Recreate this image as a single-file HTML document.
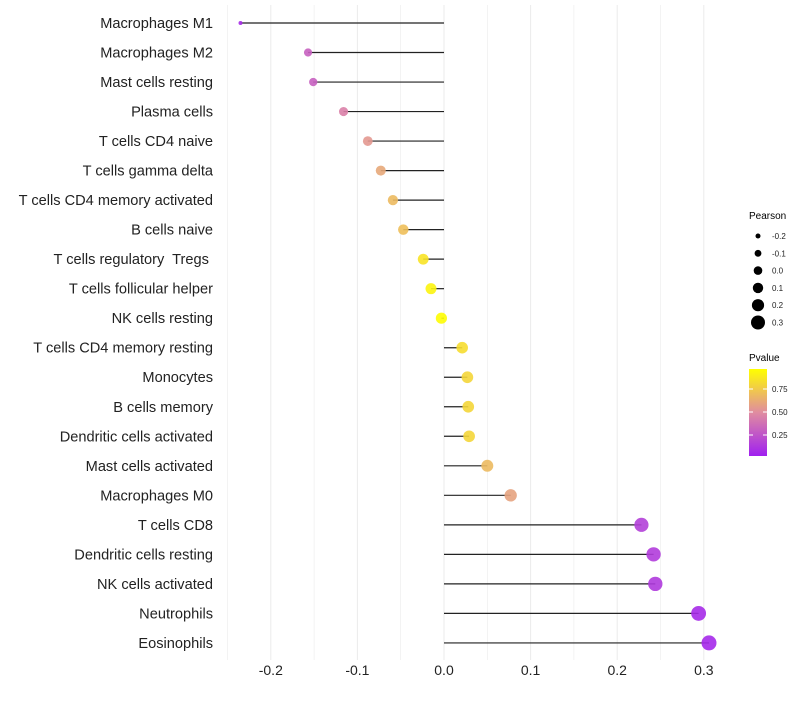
<!DOCTYPE html>
<html><head><meta charset="utf-8"><style>
body{margin:0;background:#fff;font-family:"Liberation Sans",sans-serif}
</style></head><body>
<svg id="chart" width="800" height="700" xmlns="http://www.w3.org/2000/svg" font-family="Liberation Sans, sans-serif">
<defs><linearGradient id="pg" x1="0" y1="1" x2="0" y2="0">
<stop offset="0" stop-color="#A020F0"/><stop offset="0.5" stop-color="#E08CA0"/><stop offset="1" stop-color="#FFFF00"/></linearGradient></defs>
<g id="grid"></g><g id="marks"></g><g id="labels"></g><g id="xticks"></g>
<g>
<text x="749" y="219" font-size="10">Pearson</text>
<g id="sizeleg"></g></g>
<g>
<text x="749" y="361" font-size="10">Pvalue</text>
<rect x="749" y="369" width="18" height="87" fill="url(#pg)"/>
<g id="colleg"></g></g>
</svg>
<script>
const categories=["Macrophages M1","Macrophages M2","Mast cells resting","Plasma cells","T cells CD4 naive","T cells gamma delta","T cells CD4 memory activated","B cells naive","T cells regulatory\u00a0 Tregs\u00a0","T cells follicular helper","NK cells resting","T cells CD4 memory resting","Monocytes","B cells memory","Dendritic cells activated","Mast cells activated","Macrophages M0","T cells CD8","Dendritic cells resting","NK cells activated","Neutrophils","Eosinophils"];
const pearson=[-0.235,-0.157,-0.151,-0.116,-0.088,-0.073,-0.059,-0.047,-0.024,-0.015,-0.003,0.021,0.027,0.028,0.029,0.050,0.077,0.228,0.242,0.244,0.294,0.306];
const pvalues=[0.05,0.3,0.3,0.45,0.55,0.62,0.7,0.72,0.88,0.95,0.99,0.85,0.82,0.82,0.82,0.7,0.6,0.15,0.13,0.12,0.05,0.04];
const xTicks=[-0.2,-0.1,0.0,0.1,0.2,0.3];
const xTickLabels=["-0.2","-0.1","0.0","0.1","0.2","0.3"];
const sizeLegend=[-0.2,-0.1,0.0,0.1,0.2,0.3];
const sizeLegendLabels=["-0.2","-0.1","0.0","0.1","0.2","0.3"];
const colorTicks=[0.25,0.5,0.75];
const colorTickLabels=["0.25","0.50","0.75"];
const NS="http://www.w3.org/2000/svg";
const x=v=>444+v*866;
const y=i=>23+i*29.52;
const r=v=>2+5.5*Math.sqrt(Math.max(0,(v+0.235)/0.541));
function lerp(a,b,t){return a.map((c,i)=>Math.round(c+(b[i]-c)*t));}
function col(p){const A=[160,32,240],B=[224,140,160],C=[255,255,0];const c=p<0.5?lerp(A,B,p/0.5):lerp(B,C,(p-0.5)/0.5);return `rgb(${c})`;}
function mk(t,a,parent){const e=document.createElementNS(NS,t);for(const k in a)e.setAttribute(k,a[k]);parent.appendChild(e);return e;}
const grid=document.getElementById('grid'),marks=document.getElementById('marks'),labels=document.getElementById('labels'),xt=document.getElementById('xticks');
for(let v=-0.25;v<=0.301;v+=0.05){const l=mk('line',{x1:x(v),x2:x(v),y1:5,y2:660,stroke:'#ebebeb','stroke-width':Math.abs(Math.round(v*100))%10===0?1:0.6},grid);

}
xTicks.forEach((v,i)=>{const t=mk('text',{x:x(v),y:675,'font-size':14,'text-anchor':'middle',fill:'#222'},xt);t.textContent=xTickLabels[i];

});
categories.forEach((c,i)=>{
const t=mk('text',{x:213,y:y(i)+5,'font-size':14.6,'text-anchor':'end',fill:'#222'},labels);t.textContent=c;


const l=mk('line',{x1:x(0),x2:x(pearson[i]),y1:y(i),y2:y(i),stroke:'#222','stroke-width':1.2},marks);


const p=mk('circle',{cx:x(pearson[i]),cy:y(i),r:r(pearson[i]),fill:col(pvalues[i]),'fill-opacity':0.9},marks);


});
const sl=document.getElementById('sizeleg');
sizeLegend.forEach((v,i)=>{const yy=236+i*17.3;mk('circle',{cx:758,cy:yy,r:2.5+i*0.9,fill:'#000'},sl);
const t=mk('text',{x:772,y:yy+3,'font-size':8,fill:'#222'},sl);t.textContent=sizeLegendLabels[i];

});
const cl=document.getElementById('colleg');
colorTicks.forEach((v,i)=>{const yy=458-v*92;mk('line',{x1:749,x2:753,y1:yy,y2:yy,stroke:'#fff'},cl);mk('line',{x1:763,x2:767,y1:yy,y2:yy,stroke:'#fff'},cl);
const t=mk('text',{x:772,y:yy+3,'font-size':8,fill:'#222'},cl);t.textContent=colorTickLabels[i];

});
</script>
</body></html>
